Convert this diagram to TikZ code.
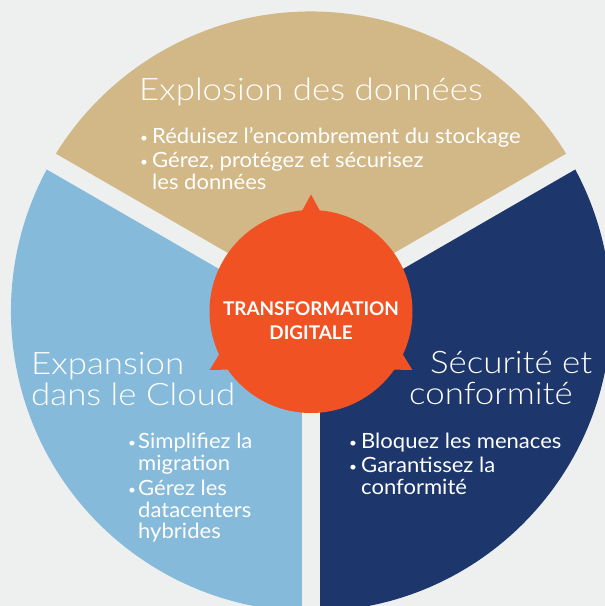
\documentclass[tikz,border=0pt]{standalone}
\usepackage{fontspec}
\setmainfont{Lato}[FakeStretch=1.05]
\newfontfamily\lightfont{Lato Light}[FakeStretch=1.125]
\newfontfamily\boldfont{Lato Bold}
\usetikzlibrary{calc}
\definecolor{bgc}{HTML}{EEF0EF}
\definecolor{tanc}{HTML}{D2B887}
\definecolor{lbluec}{HTML}{86BADB}
\definecolor{navyc}{HTML}{1D366B}
\definecolor{orangec}{HTML}{F15223}
\newcommand{\bul}[1]{\makebox[#1][l]{\raisebox{0.5pt}{\fontsize{13}{13}\selectfont•}}}
\begin{document}
\begin{tikzpicture}[x=1pt,y=1pt,
  titletext/.style={text=white,font=\lightfont\fontsize{31}{31}\selectfont,anchor=base west,inner sep=0pt},
  bultext/.style={text=white,font=\fontsize{21}{21}\selectfont,anchor=base west,inner sep=0pt},
  centertext/.style={text=white,font=\boldfont\fontsize{18.9}{18.9}\selectfont,anchor=base,inner sep=0pt}]
\useasboundingbox (0,-606) rectangle (605,0);
\clip (0,-606) rectangle (605,0);
\fill[bgc] (0,-606) rectangle (605,0);
\coordinate (C) at (311,-311.5);
% sectors
\fill[tanc] (C) -- ++(30:300) arc[start angle=30,end angle=150,radius=300] -- cycle;
\fill[lbluec] (C) -- ++(150:300) arc[start angle=150,end angle=270,radius=300] -- cycle;
\fill[navyc] (C) -- ++(270:300) arc[start angle=270,end angle=390,radius=300] -- cycle;
\foreach \a in {30,150,270} \draw[bgc,line width=18pt] (C) -- ++(\a:320);
% centre
\fill[orangec] (C) circle[radius=101.5];
\foreach \a in {90,210,330}
  \fill[orangec] ($(C)+(\a-5.5:100)$) -- ($(C)+(\a:117)$) -- ($(C)+(\a+5.5:100)$) -- cycle;
\node[centertext] (c1) at (311,-315) {TRANSFORMATION};
\node[centertext] (c2) at (311,-339) {DIGITALE};
% top
\node[titletext] (t1) at (139,-100.5) {Explosion des données};
\node[bultext] (b1) at (140,-143) {\bul{12pt}Réduisez l’encombrement du stockage};
\node[bultext] (b2) at (140,-167) {\bul{12pt}Gérez, protégez et sécurisez};
\node[bultext] (b3) at (152,-189) {les données};
% left
\node[titletext] (l1) at (31,-374) {Expansion};
\node[titletext] (l2) at (31,-405) {dans le Cloud};
\node[bultext] (lb1) at (128,-448) {\bul{10pt}Simplifiez la};
\node[bultext] (lb2) at (138,-470) {migration};
\node[bultext] (lb3) at (128,-495) {\bul{10pt}Gérez les};
\node[bultext] (lb4) at (138,-517) {datacenters};
\node[bultext] (lb5) at (138,-538) {hybrides};
% right
\node[titletext] (r1) at (430,-373) {Sécurité et};
\node[titletext] (r2) at (409,-404) {conformité};
\node[bultext] (rb1) at (349,-448) {\bul{12pt}Bloquez les menaces};
\node[bultext] (rb2) at (349,-472) {\bul{12pt}Garantissez la};
\node[bultext] (rb3) at (361,-494) {conformité};
\end{tikzpicture}
\end{document}
